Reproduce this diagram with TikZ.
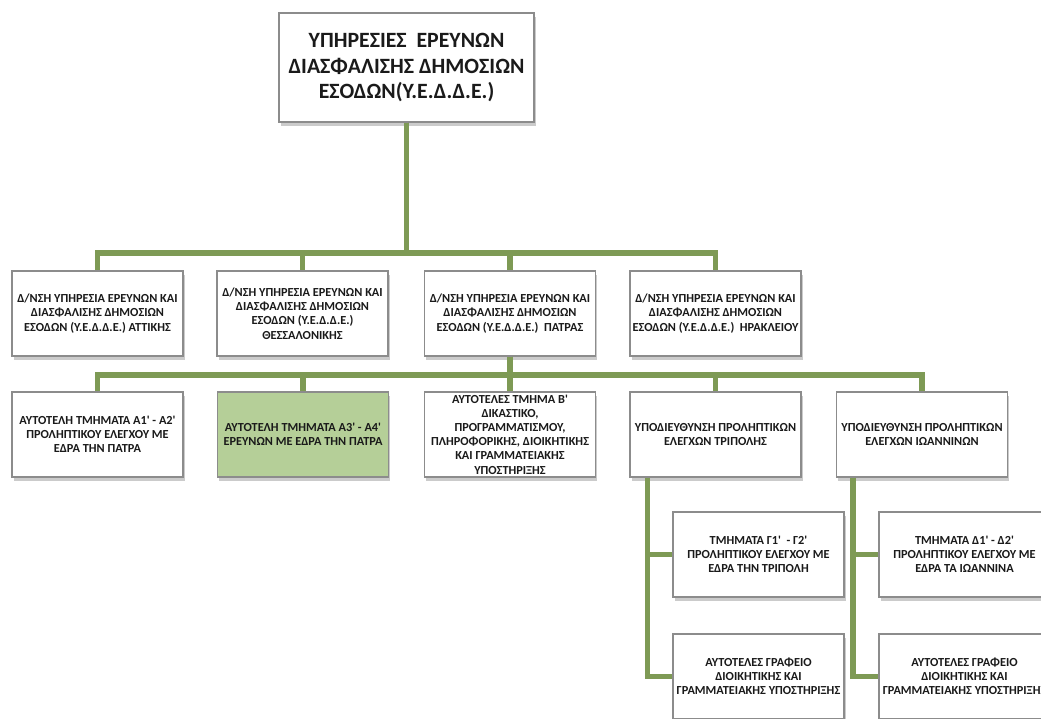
\documentclass[tikz,border=0pt]{standalone}
\usepackage{fontspec}
\setmainfont{Carlito}
\usetikzlibrary{shadows,calc}
\definecolor{linegreen}{HTML}{7E9A55}
\definecolor{boxborder}{HTML}{8C8C8C}
\definecolor{boxgreen}{HTML}{B5CF98}
\definecolor{txt}{HTML}{1A1A1A}
\newcommand{\q}{\textquotesingle}
\tikzset{
  box/.style={draw=boxborder, line width=1.3pt, fill=white, minimum width=171pt, minimum height=85pt,
    inner sep=1pt, align=center, text=txt, font=\fontsize{12.3}{14.2}\selectfont\bfseries,
    drop shadow={shadow xshift=1.5pt, shadow yshift=-3.5pt, fill=black!45, opacity=0.45}},
  topbox/.style={box, minimum width=255pt, minimum height=109pt, font=\fontsize{21.8}{25.5}\selectfont\bfseries},
  conn/.style={draw=linegreen, line width=5.5pt, line cap=butt, line join=miter},
}
\begin{document}
\begin{tikzpicture}[x=1pt,y=-1pt]
\useasboundingbox (0,0) rectangle (1041,718);
\clip (0,0) rectangle (1041,718);
% top
\node[topbox] (top) at (406.5,67.5) {ΥΠΗΡΕΣΙΕΣ~ ΕΡΕΥΝΩΝ\\ΔΙΑΣΦΑΛΙΣΗΣ ΔΗΜΟΣΙΩΝ\\ΕΣΟΔΩΝ(Υ.Ε.Δ.Δ.Ε.)};
% level 2
\node[box] (a1) at (97.5,313.5) {Δ/ΝΣΗ ΥΠΗΡΕΣΙΑ ΕΡΕΥΝΩΝ ΚΑΙ\\ΔΙΑΣΦΑΛΙΣΗΣ ΔΗΜΟΣΙΩΝ\\ΕΣΟΔΩΝ (Υ.Ε.Δ.Δ.Ε.) ΑΤΤΙΚΗΣ};
\node[box] (a2) at (302.5,313.5) {Δ/ΝΣΗ ΥΠΗΡΕΣΙΑ ΕΡΕΥΝΩΝ ΚΑΙ\\ΔΙΑΣΦΑΛΙΣΗΣ ΔΗΜΟΣΙΩΝ\\ΕΣΟΔΩΝ (Υ.Ε.Δ.Δ.Ε.)\\ΘΕΣΣΑΛΟΝΙΚΗΣ};
\node[box] (a3) at (510,313.5) {Δ/ΝΣΗ ΥΠΗΡΕΣΙΑ ΕΡΕΥΝΩΝ ΚΑΙ\\ΔΙΑΣΦΑΛΙΣΗΣ ΔΗΜΟΣΙΩΝ\\ΕΣΟΔΩΝ (Υ.Ε.Δ.Δ.Ε.)~ ΠΑΤΡΑΣ};
\node[box] (a4) at (715.5,313.5) {Δ/ΝΣΗ ΥΠΗΡΕΣΙΑ ΕΡΕΥΝΩΝ ΚΑΙ\\ΔΙΑΣΦΑΛΙΣΗΣ ΔΗΜΟΣΙΩΝ\\ΕΣΟΔΩΝ (Υ.Ε.Δ.Δ.Ε.)~ ΗΡΑΚΛΕΙΟΥ};
% level 3
\node[box] (b1) at (97.5,434.5) {ΑΥΤΟΤΕΛΗ ΤΜΗΜΑΤΑ Α1\q{} - Α2\q\\ΠΡΟΛΗΠΤΙΚΟΥ ΕΛΕΓΧΟΥ ΜΕ\\ΕΔΡΑ ΤΗΝ ΠΑΤΡΑ};
\node[box, fill=boxgreen] (b2) at (303,434.5) {ΑΥΤΟΤΕΛΗ ΤΜΗΜΑΤΑ Α3\q{} - Α4\q\\ΕΡΕΥΝΩΝ ΜΕ ΕΔΡΑ ΤΗΝ ΠΑΤΡΑ};
\node[box] (b3) at (510,434.5) {ΑΥΤΟΤΕΛΕΣ ΤΜΗΜΑ Β\q\\ΔΙΚΑΣΤΙΚΟ,\\ΠΡΟΓΡΑΜΜΑΤΙΣΜΟΥ,\\ΠΛΗΡΟΦΟΡΙΚΗΣ, ΔΙΟΙΚΗΤΙΚΗΣ\\ΚΑΙ ΓΡΑΜΜΑΤΕΙΑΚΗΣ\\ΥΠΟΣΤΗΡΙΞΗΣ};
\node[box] (b4) at (715.5,434.5) {ΥΠΟΔΙΕΥΘΥΝΣΗ ΠΡΟΛΗΠΤΙΚΩΝ\\ΕΛΕΓΧΩΝ ΤΡΙΠΟΛΗΣ};
\node[box] (b5) at (922,434.5) {ΥΠΟΔΙΕΥΘΥΝΣΗ ΠΡΟΛΗΠΤΙΚΩΝ\\ΕΛΕΓΧΩΝ ΙΩΑΝΝΙΝΩΝ};
% level 4
\node[box] (c1) at (758.5,554.5) {ΤΜΗΜΑΤΑ Γ1\q{}~ - Γ2\q\\ΠΡΟΛΗΠΤΙΚΟΥ ΕΛΕΓΧΟΥ ΜΕ\\ΕΔΡΑ ΤΗΝ ΤΡΙΠΟΛΗ};
\node[box] (c2) at (758.5,676.5) {ΑΥΤΟΤΕΛΕΣ ΓΡΑΦΕΙΟ\\ΔΙΟΙΚΗΤΙΚΗΣ ΚΑΙ\\ΓΡΑΜΜΑΤΕΙΑΚΗΣ ΥΠΟΣΤΗΡΙΞΗΣ};
\node[box] (d1) at (964.5,554.5) {ΤΜΗΜΑΤΑ Δ1\q{} - Δ2\q\\ΠΡΟΛΗΠΤΙΚΟΥ ΕΛΕΓΧΟΥ ΜΕ\\ΕΔΡΑ ΤΑ ΙΩΑΝΝΙΝΑ};
\node[box] (d2) at (964.5,676.5) {ΑΥΤΟΤΕΛΕΣ ΓΡΑΦΕΙΟ\\ΔΙΟΙΚΗΤΙΚΗΣ ΚΑΙ\\ΓΡΑΜΜΑΤΕΙΑΚΗΣ ΥΠΟΣΤΗΡΙΞΗΣ};
% connectors
\coordinate (bar1) at (0,253);
\coordinate (bar2) at (0,375);
\foreach \n in {a1,a2,a3,a4}
  \draw[conn] (top.south) -- (top.south |- bar1) -| (\n.north);
\foreach \n in {b1,b2,b3,b4,b5}
  \draw[conn] (a3.south) -- (a3.south |- bar2) -| (\n.north);
\coordinate (tr) at ($(b4.south west)+(18,0)$);
\coordinate (io) at ($(b5.south west)+(17,0)$);
\draw[conn] (tr) |- (c1.west);
\draw[conn] (tr) |- (c2.west);
\draw[conn] (io) |- (d1.west);
\draw[conn] (io) |- (d2.west);
\end{tikzpicture}
\end{document}
